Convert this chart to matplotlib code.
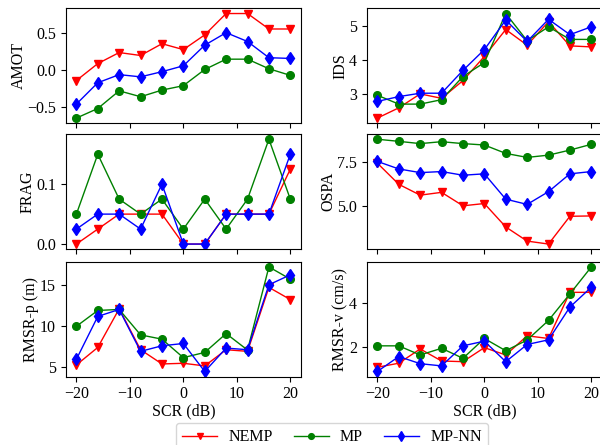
import matplotlib
matplotlib.use("Agg")
import matplotlib.pyplot as plt
from matplotlib.ticker import MaxNLocator

plt.rcParams['font.family'] = 'serif'
plt.rcParams['font.serif'] = ['Liberation Serif', 'DejaVu Serif']
plt.rcParams['font.size'] = 11.5

scr = [-20, -16, -12, -8, -4, 0, 4, 8, 12, 16, 20]

# AMOT
amot_nemp = [-0.14, 0.09, 0.24, 0.20, 0.36, 0.28, 0.48, 0.77, 0.77, 0.56, 0.56]
amot_mp = [-0.65, -0.52, -0.28, -0.36, -0.27, -0.21, 0.01, 0.15, 0.15, 0.02, -0.07]
amot_mpnn = [-0.46, -0.17, -0.06, -0.09, -0.02, 0.06, 0.34, 0.51, 0.39, 0.17, 0.16]

# IDS
ids_nemp = [2.30, 2.60, 3.01, 2.88, 3.40, 4.11, 4.90, 4.44, 5.13, 4.42, 4.39]
ids_mp = [2.97, 2.71, 2.71, 2.84, 3.52, 3.93, 5.37, 4.57, 4.98, 4.61, 4.61]
ids_mpnn = [2.79, 2.93, 3.03, 3.03, 3.70, 4.31, 5.18, 4.55, 5.20, 4.75, 4.98]

# FRAG
frag_nemp = [0.0, 0.025, 0.05, 0.05, 0.05, 0.0, 0.0, 0.05, 0.05, 0.05, 0.125]
frag_mp = [0.05, 0.15, 0.075, 0.05, 0.075, 0.025, 0.075, 0.025, 0.075, 0.175, 0.075]
frag_mpnn = [0.025, 0.05, 0.05, 0.025, 0.1, 0.0, 0.0, 0.05, 0.05, 0.05, 0.15]

# OSPA
ospa_nemp = [7.46, 6.25, 5.63, 5.79, 5.02, 5.15, 3.81, 3.00, 2.83, 4.42, 4.44]
ospa_mp = [8.83, 8.71, 8.58, 8.69, 8.58, 8.50, 8.02, 7.79, 7.92, 8.21, 8.54]
ospa_mpnn = [7.56, 7.13, 6.92, 6.98, 6.77, 6.85, 5.40, 5.10, 5.83, 6.85, 6.98]

# RMSR-p
rmsp_nemp = [5.28, 7.42, 12.14, 7.14, 5.40, 5.48, 5.16, 7.14, 6.94, 14.76, 13.27]
rmsp_mp = [10.0, 11.94, 12.06, 8.95, 8.43, 6.17, 6.81, 9.11, 7.10, 17.26, 15.77]
rmsp_mpnn = [5.97, 11.21, 12.06, 6.94, 7.62, 7.90, 4.48, 7.34, 7.14, 15.08, 16.29]

# RMSR-v
rmsv_nemp = [1.11, 1.29, 1.93, 1.39, 1.36, 1.99, 1.66, 2.52, 2.40, 4.47, 4.47]
rmsv_mp = [2.07, 2.07, 1.66, 1.96, 1.51, 2.40, 1.85, 2.33, 3.21, 4.40, 5.61]
rmsv_mpnn = [0.92, 1.59, 1.27, 1.17, 2.07, 2.28, 1.36, 2.13, 2.34, 3.81, 4.70]

panels = [
    ("AMOT", amot_nemp, amot_mp, amot_mpnn),
    ("IDS", ids_nemp, ids_mp, ids_mpnn),
    ("FRAG", frag_nemp, frag_mp, frag_mpnn),
    ("OSPA", ospa_nemp, ospa_mp, ospa_mpnn),
    ("RMSR-p (m)", rmsp_nemp, rmsp_mp, rmsp_mpnn),
    ("RMSR-v (cm/s)", rmsv_nemp, rmsv_mp, rmsv_mpnn),
]

W, H = 600, 445
fig = plt.figure(figsize=(6, 4.45), dpi=100)

# pixel boxes of the axes (left, right) and (top, bottom)
cols = [(65.7, 301.0), (366.7, 602.0)]
rows = [(8.3, 123.3), (134.0, 249.3), (261.7, 376.7)]

axes = []
for i, (name, nemp, mp, mpnn) in enumerate(panels):
    r, c = divmod(i, 2)
    x0, x1 = cols[c]
    y0, y1 = rows[r]
    ax = fig.add_axes([x0 / W, 1 - y1 / H, (x1 - x0) / W, (y1 - y0) / H])
    ax.plot(scr, nemp, color="red", marker="v", markersize=6, linewidth=1, label="NEMP")
    ax.plot(scr, mp, color="green", marker="o", markersize=5.5, linewidth=1, label="MP")
    ax.plot(scr, mpnn, color="blue", marker="d", markersize=6.5, linewidth=1, label="MP-NN")
    ax.set_ylabel(name, labelpad=0.5)
    ax.yaxis.set_major_locator(MaxNLocator(3, steps=[1, 2, 2.5, 5, 10]))
    ax.set_xticks([-20, -10, 0, 10, 20])
    if r < 2:
        ax.set_xticklabels([])
    else:
        ax.set_xlabel("SCR (dB)", labelpad=1)
    axes.append(ax)

fig.align_ylabels(axes[0::2])
fig.align_ylabels(axes[1::2])

handles, labels = axes[0].get_legend_handles_labels()
fig.legend(handles, labels, loc="upper center", ncol=3, markerscale=0.75,
           bbox_to_anchor=(332 / W, 1 - 423 / H), borderaxespad=0,
           columnspacing=1.3, handlelength=2.2, handletextpad=0.7)

fig.savefig("out.png", dpi=100)
